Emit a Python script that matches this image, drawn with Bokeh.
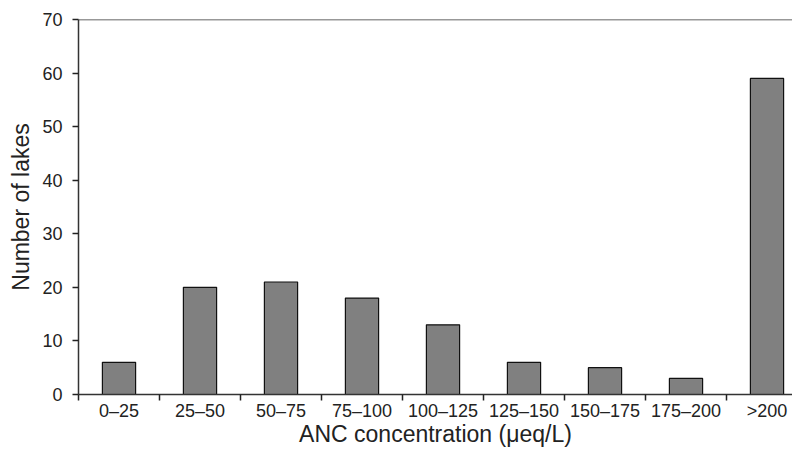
from bokeh.plotting import figure
from bokeh.models import Range1d, FixedTicker, Span
from bokeh.embed import file_html
from bokeh.resources import INLINE

categories = ["0–25", "25–50", "50–75", "75–100", "100–125", "125–150", "150–175", "175–200", ">200"]
counts = [6, 20, 21, 18, 13, 6, 5, 3, 59]
y_ticks = [0, 10, 20, 30, 40, 50, 60, 70]
x_title = "ANC concentration (μeq/L)"
y_title = "Number of lakes"

n = len(categories)
centers = [i + 0.5 for i in range(n)]
boundaries = list(range(n + 1))

W, H = 792, 449
LEFT, TOP, BOTTOM = 78, 19, 55
CAT_PX = 81.0

p = figure(width=W, height=H, output_backend="svg", toolbar_location=None,
           x_range=Range1d(0, (W - LEFT) / CAT_PX), y_range=Range1d(0, 70),
           min_border_left=LEFT, min_border_right=0, min_border_top=TOP, min_border_bottom=BOTTOM)

p.vbar(x=centers, top=counts, width=0.41, bottom=0,
       fill_color="#808080", line_color="#111111", line_width=1.2)

p.outline_line_color = None
p.grid.visible = False
p.background_fill_color = "white"
p.border_fill_color = "white"

p.add_layout(Span(location=70, dimension="width", line_color="#333333", line_width=1.5))

font = "Liberation Sans"
xa = p.xaxis[0]
xa.ticker = FixedTicker(ticks=centers, minor_ticks=boundaries)
xa.major_label_overrides = {c: lab for c, lab in zip(centers, categories)}
xa.major_tick_out = 0
xa.major_tick_in = 0
xa.minor_tick_out = 6
xa.minor_tick_in = 0
xa.minor_tick_line_width = 1.5
xa.minor_tick_line_color = "#222222"
xa.axis_line_color = "#333333"
xa.axis_line_width = 1.5
xa.major_label_text_font = font
xa.major_label_text_font_size = "18px"
xa.major_label_text_color = "#222222"
xa.major_label_standoff = 0
xa.axis_label = x_title
xa.axis_label_text_font = font
xa.axis_label_text_font_size = "23px"
xa.axis_label_text_font_style = "normal"
xa.axis_label_text_color = "#222222"
xa.axis_label_standoff = -3

ya = p.yaxis[0]
ya.ticker = FixedTicker(ticks=y_ticks)
ya.minor_tick_line_color = None
ya.major_tick_out = 6
ya.major_tick_in = 0
ya.major_tick_line_width = 1.5
ya.major_tick_line_color = "#222222"
ya.axis_line_color = "#333333"
ya.axis_line_width = 1.5
ya.major_label_text_font = font
ya.major_label_text_font_size = "18px"
ya.major_label_text_color = "#222222"
ya.major_label_standoff = 10
ya.axis_label = y_title
ya.axis_label_text_font = font
ya.axis_label_text_font_size = "23px"
ya.axis_label_text_font_style = "normal"
ya.axis_label_text_color = "#222222"
ya.axis_label_standoff = 5

open("out.html", "w").write(file_html(p, INLINE))
